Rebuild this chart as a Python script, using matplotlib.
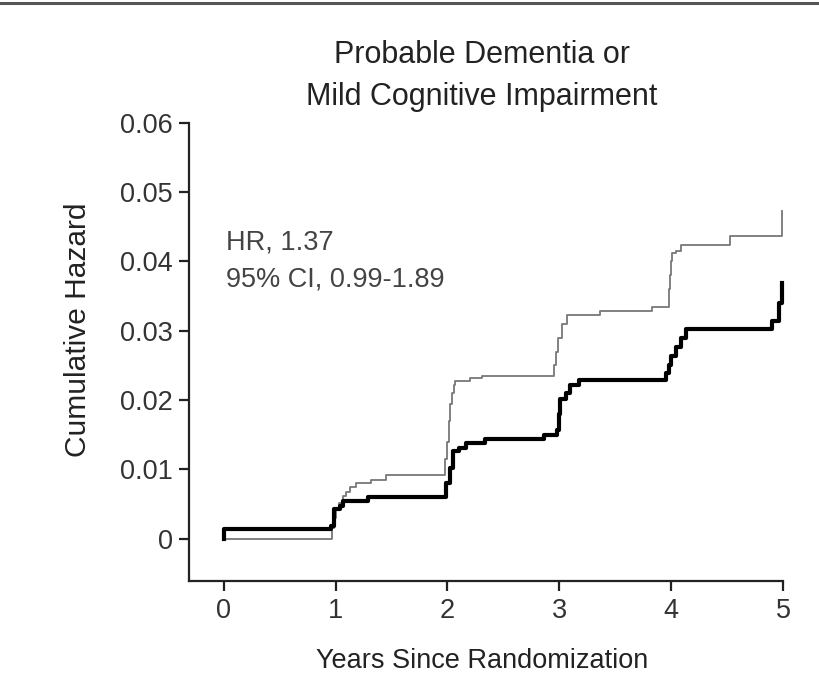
import numpy as np
import matplotlib
matplotlib.use("Agg")
import matplotlib.pyplot as plt
from matplotlib.lines import Line2D

plt.rcParams["font.family"] = ["Liberation Sans", "DejaVu Sans"]

# Thin gray curve (years, cumulative hazard)
gray_t = [0.0, 0.97, 0.99, 1.006, 1.03, 1.065, 1.09, 1.125, 1.18, 1.32, 1.45,
          1.98, 1.995, 2.01, 2.025, 2.04, 2.06, 2.07, 2.2, 2.31,
          2.955, 2.97, 2.99, 3.02, 3.07, 3.36, 3.83,
          3.98, 3.99, 4.0, 4.01, 4.04, 4.09, 4.53, 4.99]
gray_h = [0.0, 0.0015, 0.003, 0.0042, 0.0052, 0.0061, 0.0068, 0.0075, 0.008, 0.0084, 0.0092,
          0.0115, 0.014, 0.017, 0.0195, 0.021, 0.0222, 0.0227, 0.0232, 0.0235,
          0.025, 0.027, 0.029, 0.031, 0.0323, 0.0329, 0.0334,
          0.036, 0.038, 0.040, 0.0412, 0.0415, 0.0423, 0.0436, 0.0472]

# Thick black curve
black_t = [0.0, 0.0, 0.96, 0.99, 1.04, 1.065, 1.29,
           1.99, 2.02, 2.05, 2.1, 2.17, 2.34, 2.86,
           2.98, 3.0, 3.01, 3.06, 3.10, 3.18,
           3.95, 3.98, 4.0, 4.04, 4.09, 4.13, 4.9, 4.96, 4.99]
black_h = [0.0, 0.0014, 0.0018, 0.0043, 0.0047, 0.0055, 0.006,
           0.008, 0.0102, 0.0126, 0.0131, 0.0138, 0.0144, 0.0149,
           0.0157, 0.018, 0.0201, 0.021, 0.0222, 0.0229,
           0.0239, 0.025, 0.0263, 0.0277, 0.029, 0.0302, 0.0314, 0.034, 0.0369]

x_ticks = [0, 1, 2, 3, 4, 5]
y_ticks = [0, 0.01, 0.02, 0.03, 0.04, 0.05, 0.06]
y_labels = ["0", "0.01", "0.02", "0.03", "0.04", "0.05", "0.06"]

fig = plt.figure(figsize=(8.2, 6.88), dpi=100)
ax = fig.add_axes([189 / 820, 1 - 581 / 688, 594 / 820, (581 - 122.7) / 688])

ax.step(gray_t, gray_h, where="post", color="#777777", lw=1.3, clip_on=False)
ax.step(black_t, black_h, where="post", color="black", lw=3.0, clip_on=False)

ax.set_xlim(-0.31, 5.0)
ax.set_ylim(-0.0061, 0.06)
ax.set_xticks(x_ticks)
ax.set_yticks(y_ticks)
ax.set_yticklabels(y_labels)

for s in ["top", "right"]:
    ax.spines[s].set_visible(False)
for s in ["left", "bottom"]:
    ax.spines[s].set_color("#222222")
    ax.spines[s].set_linewidth(1.6)
ax.tick_params(length=7.5, width=1.6, color="#222222", labelsize=19.5,
               labelcolor="#333333")
ax.tick_params(axis="x", pad=5)
ax.tick_params(axis="y", pad=4)

ax.set_xlabel("Years Since Randomization", fontsize=19.5, color="#222222")
ax.xaxis.set_label_coords(0.493, -0.175)
ax.set_ylabel("Cumulative Hazard", fontsize=21.5, color="#222222")
ax.yaxis.set_label_coords(-0.187, 0.548)
ax.xaxis.label.set_va("center")
ax.yaxis.label.set_va("center")

ax.text(0.02, 0.0446, "HR, 1.37\n95% CI, 0.99-1.89", fontsize=19.5,
        color="#444444", ha="left", va="top", linespacing=1.55)

fig.text(482 / 820, 1 - 40 / 688, "Probable Dementia or\nMild Cognitive Impairment",
         fontsize=22, color="#222222", ha="center", va="top", linespacing=1.5)

fig.add_artist(Line2D([0, 1], [1 - 2.5 / 688, 1 - 2.5 / 688], transform=fig.transFigure,
                      color="#555555", lw=2.2))

fig.savefig("out.png", dpi=100)
